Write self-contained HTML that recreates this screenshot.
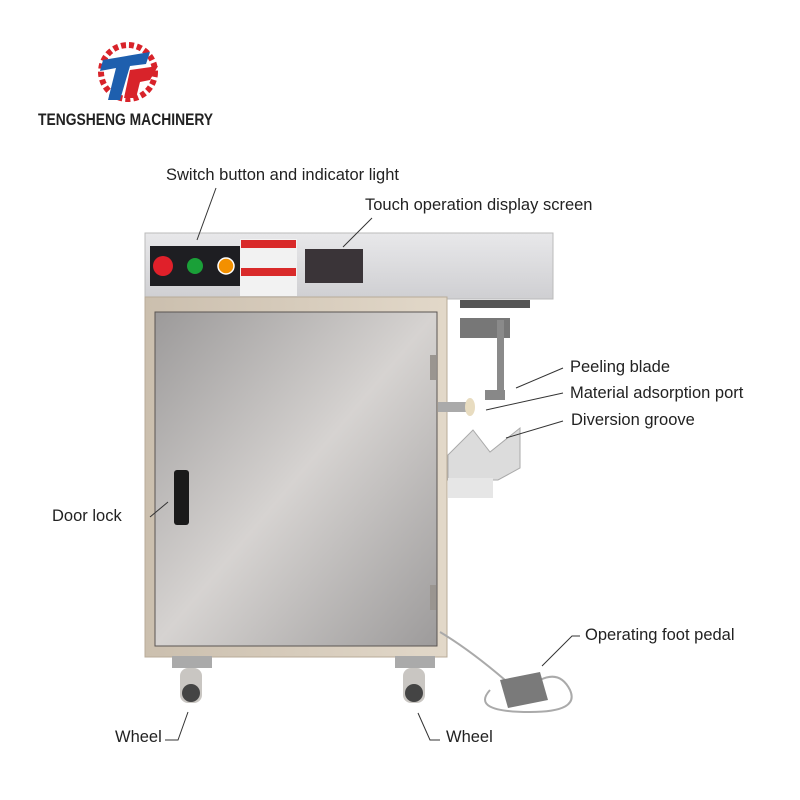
<!DOCTYPE html>
<html><head><meta charset="utf-8"><style>
body{margin:0;background:#fff;}
#c{position:relative;width:800px;height:800px;overflow:hidden;background:#fff;font-family:"Liberation Sans","Noto Sans CJK SC",sans-serif;}
.t{position:absolute;font-size:16.5px;color:#222;white-space:nowrap;}
</style></head><body><div id="c">
<svg width="800" height="800" style="position:absolute;left:0;top:0">
<defs>
<linearGradient id="door" x1="0" y1="0" x2="1" y2="1"><stop offset="0" stop-color="#9c9a9a"/><stop offset="0.5" stop-color="#d6d3d1"/><stop offset="1" stop-color="#9d9b9b"/></linearGradient>
<linearGradient id="top" x1="0" y1="0" x2="0" y2="1"><stop offset="0" stop-color="#e8e8ea"/><stop offset="1" stop-color="#cfcfd2"/></linearGradient>
<linearGradient id="frame" x1="0" y1="0" x2="1" y2="0"><stop offset="0" stop-color="#cbbfae"/><stop offset="1" stop-color="#e2d8c9"/></linearGradient>
</defs>
<circle cx="128" cy="72" r="27" fill="none" stroke="#d8232a" stroke-width="6" stroke-dasharray="5 3"/>
<path d="M103 60 L150 52 L146 64 L130 66 L120 100 L108 100 L116 68 L100 71Z" fill="#1e5fae"/>
<path d="M130 70 L158 66 L150 80 L140 82 L136 98 L124 98Z" fill="#d8232a"/>
<rect x="145" y="233" width="408" height="66" fill="url(#top)" stroke="#bbb"/>
<rect x="150" y="246" width="90" height="40" fill="#1e1e22"/>
<circle cx="163" cy="266" r="10" fill="#e0202a"/>
<circle cx="195" cy="266" r="8" fill="#1aa038"/>
<circle cx="226" cy="266" r="8" fill="#f39000" stroke="#fff" stroke-width="1.5"/>
<rect x="240" y="239" width="57" height="57" fill="#f2f2f2"/>
<rect x="241" y="240" width="55" height="8" fill="#d92a2a"/>
<rect x="241" y="268" width="55" height="8" fill="#d92a2a"/>
<rect x="305" y="249" width="58" height="34" fill="#3a3438"/>
<rect x="145" y="297" width="302" height="360" fill="url(#frame)" stroke="#b8ab98"/>
<rect x="155" y="312" width="282" height="334" fill="url(#door)" stroke="#5a5552"/>
<rect x="174" y="470" width="15" height="55" rx="3" fill="#1a1a1a"/>
<rect x="430" y="355" width="6" height="25" fill="#9a9590"/>
<rect x="430" y="585" width="6" height="25" fill="#9a9590"/>
<rect x="460" y="300" width="70" height="8" fill="#555"/>
<rect x="460" y="318" width="50" height="20" fill="#777"/>
<rect x="497" y="320" width="7" height="70" fill="#8a8a8a"/>
<rect x="485" y="390" width="20" height="10" fill="#888"/>
<rect x="438" y="402" width="30" height="10" fill="#aaa"/>
<ellipse cx="470" cy="407" rx="5" ry="9" fill="#e8dcc0"/>
<path d="M448 455 L473 430 L490 452 L520 428 L520 468 L498 480 L448 480Z" fill="#dcdcdc" stroke="#aaa"/>
<rect x="448" y="478" width="45" height="20" fill="#e6e6e6"/>
<rect x="172" y="656" width="40" height="12" fill="#aaa"/>
<rect x="180" y="668" width="22" height="35" rx="8" fill="#c9c6c2"/>
<circle cx="191" cy="693" r="9" fill="#444"/>
<rect x="395" y="656" width="40" height="12" fill="#aaa"/>
<rect x="403" y="668" width="22" height="35" rx="8" fill="#c9c6c2"/>
<circle cx="414" cy="693" r="9" fill="#444"/>
<path d="M440 632 Q470 650 505 680 M490 690 Q470 712 530 712 Q580 712 570 690 Q560 670 540 680" fill="none" stroke="#aaa" stroke-width="2"/>
<path d="M500 680 L540 672 L548 700 L508 708Z" fill="#7a7a7a"/>
<g stroke="#333" stroke-width="1" fill="#333">
<line x1="216" y1="188" x2="197" y2="240"/>
<line x1="372" y1="218" x2="343" y2="247"/>
<line x1="563" y1="368" x2="516" y2="388"/>
<line x1="563" y1="393" x2="486" y2="410"/>
<line x1="563" y1="421" x2="506" y2="438"/>
<line x1="150" y1="517" x2="168" y2="502"/>
<polyline points="580,636 572,636 542,666" fill="none"/>
<polyline points="165,740 178,740 188,712" fill="none"/>
<polyline points="440,740 430,740 418,713" fill="none"/>
</g>
</svg>
<div class="t" style="left:38px;top:111px;font-weight:bold;font-size:16.5px;transform:scaleX(0.84);transform-origin:0 0;">TENGSHENG MACHINERY</div>
<div class="t" style="left:166px;top:166px">Switch button and indicator light</div>
<div class="t" style="left:365px;top:196px">Touch operation display screen</div>
<div class="t" style="left:570px;top:358px">Peeling blade</div>
<div class="t" style="left:570px;top:384px">Material adsorption port</div>
<div class="t" style="left:571px;top:411px">Diversion groove</div>
<div class="t" style="left:52px;top:507px">Door lock</div>
<div class="t" style="left:585px;top:626px">Operating foot pedal</div>
<div class="t" style="left:115px;top:728px">Wheel</div>
<div class="t" style="left:446px;top:728px">Wheel</div>
</div></body></html>
